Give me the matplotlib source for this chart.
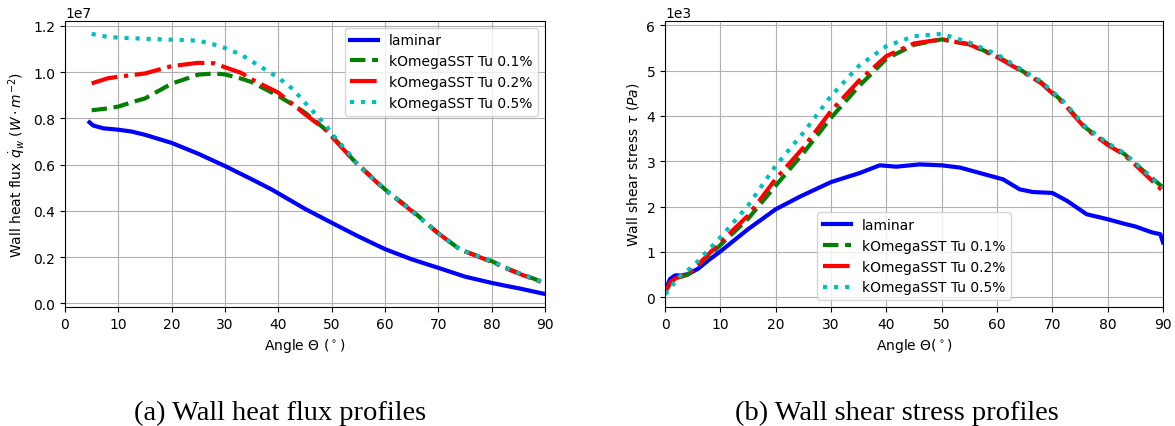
import numpy as np
import matplotlib
matplotlib.use("Agg")
import matplotlib.pyplot as plt

# --- Wall heat flux (a), values in 1e7 W/m^2 ---
ang_q_lam = [4.6, 5.3, 7.2, 10, 12.5, 15, 20, 25, 30, 35, 38.8, 40, 45, 50, 55, 60, 65,
             70, 75, 80, 83.4, 85, 90]
q_lam = [0.783, 0.769, 0.757, 0.751, 0.743, 0.729, 0.694, 0.647, 0.594, 0.537, 0.492,
         0.476, 0.409, 0.349, 0.290, 0.235, 0.191, 0.154, 0.116, 0.089, 0.073, 0.066, 0.041]

ang_q = [5, 8, 10, 13, 15, 20, 25, 28, 30, 33, 35, 40, 42.8, 45, 49.1, 50, 54.1, 55, 60,
         65, 70, 74.1, 75, 80, 83.4, 85, 90]
q_tu01 = [0.835, 0.843, 0.851, 0.873, 0.886, 0.950, 0.989, 0.994, 0.990, 0.972, 0.957,
          0.897, 0.858, 0.825, 0.747, 0.726, 0.619, 0.600, 0.493, 0.403, 0.303, 0.233,
          0.225, 0.183, 0.147, 0.132, 0.089]
q_tu02 = [0.951, 0.973, 0.980, 0.988, 0.994, 1.026, 1.040, 1.038, 1.021, 0.997, 0.969,
          0.911, 0.860, 0.818, 0.747, 0.722, 0.619, 0.598, 0.491, 0.400, 0.303, 0.233,
          0.225, 0.180, 0.145, 0.130, 0.087]
q_tu05 = [1.165, 1.152, 1.149, 1.146, 1.144, 1.140, 1.136, 1.119, 1.104, 1.076, 1.047,
          0.976, 0.925, 0.868, 0.765, 0.735, 0.625, 0.595, 0.494, 0.400, 0.303, 0.233,
          0.225, 0.183, 0.147, 0.132, 0.089]

# --- Wall shear stress (b), values in 1e3 Pa ---
ang_t_lam = [0, 0.9, 1.8, 3, 4.2, 6, 7.8, 10, 15, 20, 24.4, 30, 35.2, 38.8, 41.8, 46, 50,
             53.3, 57.5, 61.1, 64.1, 66.5, 70, 72.6, 76.2, 80, 83, 85, 88, 89.5, 90]
t_lam = [0.13, 0.40, 0.48, 0.48, 0.51, 0.63, 0.81, 1.01, 1.50, 1.94, 2.22, 2.54, 2.74,
         2.91, 2.88, 2.93, 2.91, 2.86, 2.72, 2.60, 2.38, 2.32, 2.30, 2.13, 1.83, 1.72,
         1.62, 1.56, 1.43, 1.39, 1.21]

ang_t = [0, 1, 2, 4, 6, 10, 15, 20, 25, 30, 35, 40, 45, 50, 55, 60, 65, 68, 72, 76, 80,
         83, 85, 90]
t_tu01 = [0.11, 0.33, 0.42, 0.49, 0.70, 1.15, 1.73, 2.46, 3.18, 3.96, 4.65, 5.26, 5.57,
          5.69, 5.58, 5.32, 4.96, 4.74, 4.30, 3.74, 3.38, 3.16, 2.94, 2.42]
t_tu02 = [0.11, 0.33, 0.42, 0.50, 0.72, 1.21, 1.80, 2.61, 3.30, 4.11, 4.77, 5.32, 5.60,
          5.69, 5.58, 5.30, 4.95, 4.72, 4.28, 3.72, 3.36, 3.14, 2.92, 2.34]
t_tu05 = [0.07, 0.18, 0.40, 0.58, 0.80, 1.32, 2.02, 2.90, 3.63, 4.44, 5.10, 5.54, 5.76,
          5.81, 5.62, 5.36, 4.98, 4.76, 4.32, 3.76, 3.40, 3.18, 2.96, 2.42]

labels = ['laminar', 'kOmegaSST Tu 0.1%', 'kOmegaSST Tu 0.2%', 'kOmegaSST Tu 0.5%']
lw = 3

fig = plt.figure(figsize=(11.75, 4.27), dpi=100)
ax1 = fig.add_axes([0.0553, 0.2787, 0.4085, 0.67])
ax2 = fig.add_axes([0.566, 0.2787, 0.4238, 0.67])

ax1.plot(ang_q_lam, np.array(q_lam) * 1e7, 'b-', lw=lw, label=labels[0])
ax1.plot(ang_q, np.array(q_tu01) * 1e7, 'g--', lw=lw, label=labels[1])
ax1.plot(ang_q, np.array(q_tu02) * 1e7, 'r-.', lw=lw, label=labels[2])
ax1.plot(ang_q, np.array(q_tu05) * 1e7, 'c:', lw=lw, label=labels[3])
ax1.set_xlim(0, 90)
ax1.set_xlabel(r'Angle $\Theta$ $(^\circ)$')
ax1.set_ylabel(r'Wall heat flux $\dot{q}_w$ $(W \cdot m^{-2})$')
ax1.grid(True)
ax1.legend(loc='upper right')

ax2.plot(ang_t_lam, np.array(t_lam) * 1e3, 'b-', lw=lw, label=labels[0])
ax2.plot(ang_t, np.array(t_tu01) * 1e3, 'g--', lw=lw, label=labels[1])
ax2.plot(ang_t, np.array(t_tu02) * 1e3, 'r-.', lw=lw, label=labels[2])
ax2.plot(ang_t, np.array(t_tu05) * 1e3, 'c:', lw=lw, label=labels[3])
ax2.set_xlim(0, 90)
ax2.ticklabel_format(axis='y', style='sci', scilimits=(0, 0))
ax2.set_xlabel(r'Angle $\Theta (^\circ)$')
ax2.set_ylabel(r'Wall shear stress $\tau$ $(Pa)$')
ax2.grid(True)
ax2.legend(loc='lower center')

fig.text(0.238, 0.032, '(a) Wall heat flux profiles', ha='center', va='center',
         family='Liberation Serif', fontsize=20.5)
fig.text(0.763, 0.032, '(b) Wall shear stress profiles', ha='center', va='center',
         family='Liberation Serif', fontsize=20.5)

fig.savefig('out.png', dpi=100)
